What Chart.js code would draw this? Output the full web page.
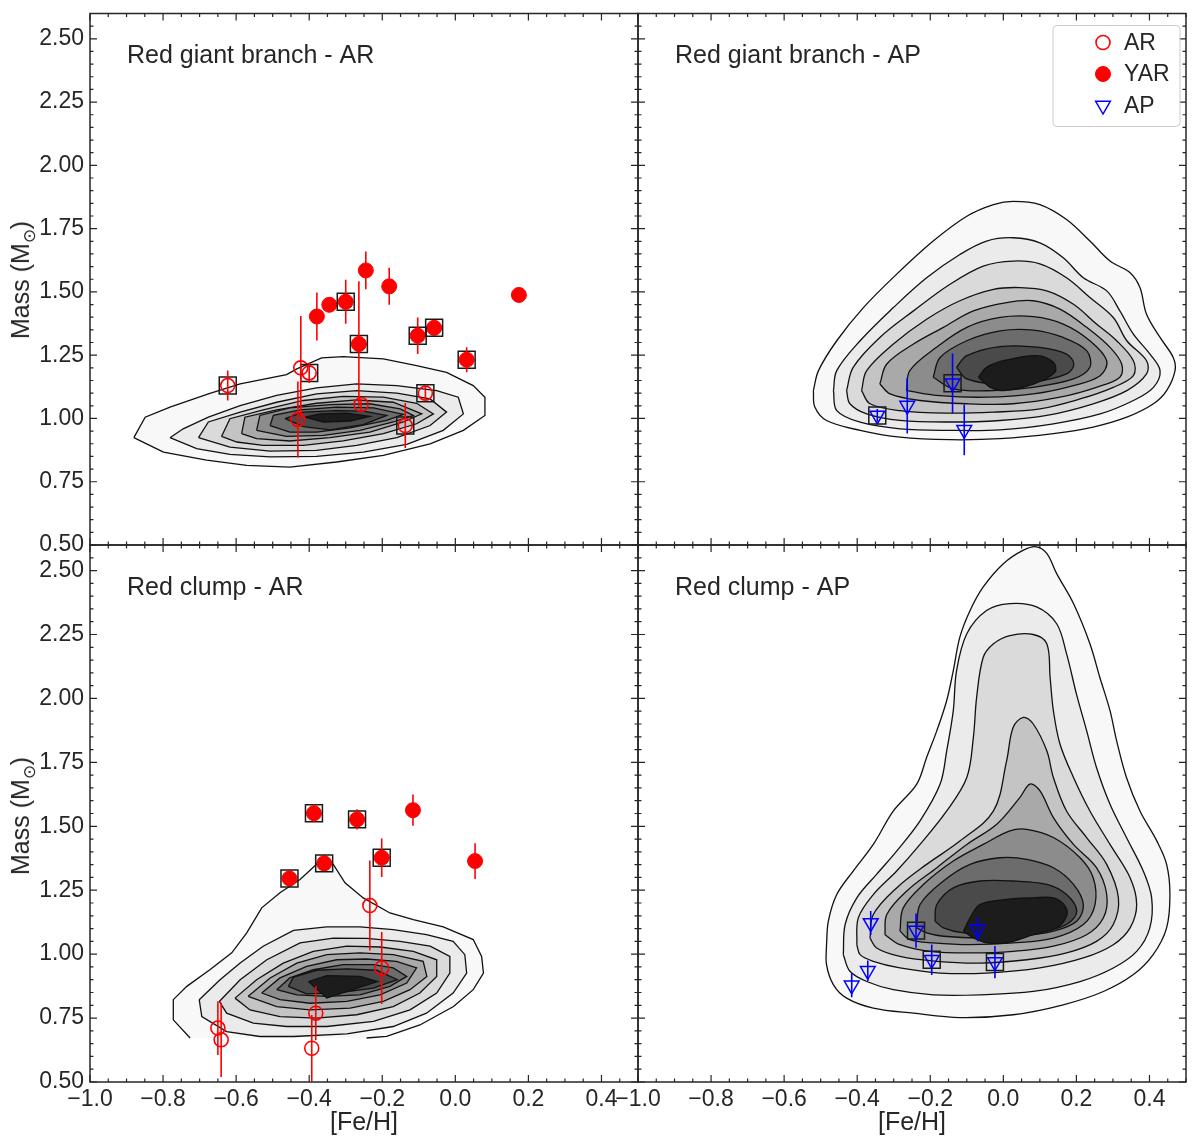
<!DOCTYPE html>
<html>
<head>
<meta charset="utf-8">
<script src="https://cdn.jsdelivr.net/npm/chart.js@4.4.1/dist/chart.umd.min.js"></script>
<style>
  body { margin: 0; background: #fff; }
  #wrap { position: relative; width: 1200px; height: 1147px; font-family: "Liberation Sans", Arial, sans-serif; }
  #wrap canvas { position: absolute; left: 0; top: 0; }
  .ytitle { position: absolute; transform: translate(-50%, -50%) rotate(-90deg); font-size: 25px; color: #262626; white-space: nowrap; }
  .ytitle sub { font-size: 17px; }
</style>
</head>
<body>
<div id="wrap">
  <canvas id="rgbAr" width="1200" height="1147"></canvas>
  <canvas id="rgbAp" width="1200" height="1147"></canvas>
  <canvas id="rcAr" width="1200" height="1147"></canvas>
  <canvas id="rcAp" width="1200" height="1147"></canvas>
  <div class="ytitle" style="left:23px;top:280px">Mass (M<sub>⊙</sub>)</div>
  <div class="ytitle" style="left:23px;top:816px">Mass (M<sub>⊙</sub>)</div>
</div>
<script>
// axes
const xMin = -1.0, xMax = 0.5, yMin = 0.5, yMax = 2.6;
const xTickValues = [-1.0, -0.8, -0.6, -0.4, -0.2, 0.0, 0.2, 0.4];
const yTickValues = [0.5, 0.75, 1.0, 1.25, 1.5, 1.75, 2.0, 2.25, 2.5];
const minorStep = 0.05;
const legendLabels = ['AR', 'YAR', 'AP'];

// ---------- red giant branch ----------
const rgbArFeh  = [-0.623, -0.423, -0.400, -0.431, -0.258, -0.082, -0.137];
const rgbArMass = [1.130, 1.200, 1.180, 0.996, 1.055, 1.100, 0.972];
const rgbArErr  = [0.059, 0.205, 0.040, 0.150, 0.024, 0.024, 0.089];
const rgbArBox  = [1, 0, 1, 0, 0, 1, 1];

const rgbYarFeh  = [-0.245, -0.181, -0.300, -0.345, -0.379, -0.264, -0.103, -0.058, 0.031, 0.174];
const rgbYarMass = [1.585, 1.522, 1.461, 1.449, 1.403, 1.294, 1.327, 1.358, 1.232, 1.488];
const rgbYarErr  = [0.075, 0.073, 0.087, 0.02, 0.095, 0.248, 0.072, 0.02, 0.049, 0.02];
const rgbYarBox  = [0, 0, 1, 0, 0, 1, 1, 1, 1, 0];

const rgbApFeh  = [-0.345, -0.263, -0.139, -0.107];
const rgbApMass = [1.012, 1.051, 1.139, 0.955];
const rgbApErr  = [0.025, 0.11, 0.118, 0.10];
const rgbApBox  = [1, 0, 1, 0];

// ---------- red clump ----------
const rcArFeh  = [-0.234, -0.2015, -0.382, -0.393, -0.650, -0.641];
const rcArMass = [1.190, 0.946, 0.769, 0.632, 0.711, 0.665];
const rcArErr  = [0.176, 0.141, 0.106, 0.13, 0.105, 0.145];
const rcArBox  = [0, 0, 0, 0, 0, 0];

const rcYarFeh  = [-0.454, -0.387, -0.359, -0.269, -0.2015, -0.116, 0.054];
const rcYarMass = [1.296, 1.551, 1.355, 1.527, 1.377, 1.563, 1.364];
const rcYarErr  = [0.03, 0.035, 0.03, 0.04, 0.075, 0.061, 0.07];
const rcYarBox  = [1, 1, 1, 1, 1, 0, 0];

const rcApFeh  = [-0.363, -0.239, -0.196, -0.070, -0.023, -0.371, -0.415];
const rcApMass = [1.122, 1.092, 0.978, 1.096, 0.969, 0.935, 0.878];
const rcApErr  = [0.047, 0.067, 0.06, 0.047, 0.063, 0.04, 0.047];
const rcApBox  = [0, 1, 1, 0, 1, 0, 0];

// density contours, outer level first, [Fe/H, mass]
const rgbArContours = [
  [[-0.880,0.924],[-0.849,1.005],[-0.781,1.045],[-0.676,1.097],[-0.589,1.137],[-0.462,1.173],[-0.434,1.196],[-0.366,1.239],[-0.307,1.244],[-0.197,1.235],[-0.106,1.209],[-0.024,1.182],[0.049,1.130],[0.081,1.084],[0.081,1.012],[0.022,0.953],[-0.069,0.900],[-0.197,0.854],[-0.325,0.828],[-0.453,0.808],[-0.571,0.815],[-0.681,0.835],[-0.799,0.867]],
  [[-0.781,0.924],[-0.745,0.959],[-0.676,1.005],[-0.589,1.051],[-0.489,1.091],[-0.380,1.121],[-0.270,1.137],[-0.160,1.130],[-0.051,1.110],[0.008,1.084],[0.022,1.018],[-0.033,0.953],[-0.133,0.898],[-0.252,0.867],[-0.380,0.850],[-0.507,0.848],[-0.617,0.858],[-0.708,0.881]],
  [[-0.703,0.924],[-0.676,0.986],[-0.589,1.025],[-0.489,1.064],[-0.380,1.097],[-0.270,1.110],[-0.160,1.100],[-0.069,1.077],[-0.024,1.025],[-0.069,0.972],[-0.160,0.924],[-0.270,0.894],[-0.380,0.874],[-0.507,0.871],[-0.617,0.887]],
  [[-0.640,0.929],[-0.617,0.999],[-0.526,1.034],[-0.416,1.071],[-0.307,1.087],[-0.197,1.084],[-0.106,1.060],[-0.060,1.018],[-0.106,0.979],[-0.197,0.940],[-0.307,0.911],[-0.416,0.894],[-0.526,0.894],[-0.598,0.907]],
  [[-0.585,0.940],[-0.576,1.005],[-0.489,1.034],[-0.380,1.060],[-0.270,1.073],[-0.170,1.064],[-0.092,1.018],[-0.142,0.986],[-0.234,0.946],[-0.343,0.924],[-0.453,0.911],[-0.544,0.920]],
  [[-0.544,0.953],[-0.535,1.012],[-0.453,1.042],[-0.343,1.055],[-0.234,1.058],[-0.151,1.038],[-0.115,1.012],[-0.170,0.986],[-0.261,0.953],[-0.361,0.933],[-0.462,0.929]],
  [[-0.507,0.972],[-0.498,1.012],[-0.425,1.034],[-0.325,1.045],[-0.224,1.042],[-0.142,1.016],[-0.188,0.992],[-0.288,0.963],[-0.380,0.946],[-0.453,0.946]],
  [[-0.466,0.999],[-0.416,1.025],[-0.325,1.031],[-0.252,1.029],[-0.188,1.012],[-0.252,0.976],[-0.343,0.955],[-0.416,0.968]],
  [[-0.412,1.005],[-0.370,1.018],[-0.297,1.021],[-0.234,1.008],[-0.288,0.990],[-0.361,0.986]]
];

const rgbApContours = [
  [[-0.520,1.110],[-0.506,1.189],[-0.456,1.307],[-0.383,1.438],[-0.292,1.570],[-0.192,1.701],[-0.100,1.799],[-0.027,1.845],[0.027,1.858],[0.100,1.845],[0.173,1.786],[0.237,1.701],[0.292,1.622],[0.347,1.576],[0.374,1.517],[0.392,1.412],[0.429,1.320],[0.465,1.241],[0.470,1.189],[0.447,1.110],[0.411,1.058],[0.338,1.005],[0.246,0.966],[0.137,0.940],[-0.009,0.920],[-0.146,0.916],[-0.283,0.926],[-0.392,0.953],[-0.484,0.992],[-0.516,1.045]],
  [[-0.465,1.110],[-0.456,1.189],[-0.392,1.307],[-0.301,1.438],[-0.210,1.556],[-0.119,1.648],[-0.046,1.701],[0.027,1.714],[0.100,1.694],[0.164,1.635],[0.219,1.556],[0.283,1.504],[0.319,1.425],[0.356,1.333],[0.401,1.255],[0.429,1.189],[0.411,1.123],[0.356,1.071],[0.265,1.018],[0.137,0.979],[-0.009,0.955],[-0.146,0.953],[-0.283,0.959],[-0.392,0.985],[-0.456,1.031]],
  [[-0.429,1.110],[-0.411,1.202],[-0.338,1.320],[-0.246,1.425],[-0.146,1.530],[-0.055,1.602],[0.027,1.622],[0.100,1.611],[0.173,1.556],[0.237,1.478],[0.301,1.399],[0.338,1.307],[0.392,1.228],[0.392,1.176],[0.338,1.110],[0.246,1.058],[0.119,1.012],[-0.009,0.992],[-0.146,0.986],[-0.283,0.992],[-0.374,1.018],[-0.420,1.058]],
  [[-0.388,1.110],[-0.374,1.189],[-0.301,1.294],[-0.210,1.392],[-0.119,1.465],[-0.027,1.510],[0.046,1.517],[0.119,1.504],[0.192,1.451],[0.255,1.373],[0.310,1.307],[0.356,1.228],[0.356,1.169],[0.301,1.123],[0.210,1.077],[0.100,1.038],[-0.027,1.025],[-0.155,1.021],[-0.283,1.031],[-0.365,1.058]],
  [[-0.338,1.136],[-0.319,1.215],[-0.246,1.294],[-0.164,1.360],[-0.082,1.425],[0.009,1.458],[0.082,1.465],[0.155,1.432],[0.228,1.360],[0.292,1.281],[0.324,1.215],[0.319,1.163],[0.255,1.123],[0.155,1.084],[0.027,1.058],[-0.100,1.058],[-0.228,1.071],[-0.310,1.097]],
  [[-0.265,1.110],[-0.256,1.189],[-0.183,1.281],[-0.100,1.360],[-0.009,1.399],[0.082,1.402],[0.164,1.373],[0.237,1.307],[0.283,1.228],[0.265,1.169],[0.192,1.130],[0.082,1.097],[-0.046,1.084],[-0.173,1.090]],
  [[-0.192,1.163],[-0.173,1.241],[-0.100,1.307],[-0.009,1.346],[0.082,1.349],[0.164,1.320],[0.228,1.268],[0.237,1.202],[0.192,1.156],[0.082,1.123],[-0.027,1.110],[-0.137,1.117]],
  [[-0.128,1.202],[-0.100,1.248],[-0.009,1.284],[0.100,1.281],[0.173,1.254],[0.193,1.213],[0.173,1.176],[0.082,1.143],[-0.009,1.134],[-0.100,1.156]],
  [[-0.068,1.163],[-0.046,1.202],[0.009,1.231],[0.091,1.248],[0.137,1.222],[0.141,1.182],[0.082,1.136],[0.000,1.110],[-0.036,1.123]]
];

const rcArContours = [
  [[-0.726,0.672],[-0.772,0.743],[-0.772,0.822],[-0.735,0.874],[-0.672,0.939],[-0.612,1.005],[-0.571,1.083],[-0.530,1.181],[-0.480,1.240],[-0.425,1.292],[-0.380,1.351],[-0.352,1.377],[-0.334,1.351],[-0.302,1.279],[-0.252,1.220],[-0.179,1.161],[-0.115,1.135],[-0.033,1.107],[0.049,1.057],[0.072,0.991],[0.077,0.926],[0.049,0.861],[-0.005,0.795],[-0.097,0.723],[-0.188,0.678],[-0.243,0.672]],
  [[-0.701,0.822],[-0.644,0.900],[-0.589,0.965],[-0.526,1.031],[-0.443,1.093],[-0.352,1.107],[-0.261,1.107],[-0.170,1.096],[-0.079,1.076],[-0.006,1.050],[0.026,0.998],[0.031,0.926],[-0.006,0.848],[-0.079,0.769],[-0.170,0.717],[-0.297,0.688],[-0.443,0.678],[-0.535,0.678],[-0.626,0.697],[-0.694,0.756]],
  [[-0.646,0.815],[-0.589,0.900],[-0.516,0.978],[-0.425,1.044],[-0.334,1.063],[-0.243,1.062],[-0.151,1.050],[-0.069,1.031],[-0.015,0.991],[-0.015,0.926],[-0.051,0.848],[-0.124,0.782],[-0.224,0.737],[-0.352,0.717],[-0.462,0.717],[-0.553,0.730],[-0.626,0.769]],
  [[-0.603,0.828],[-0.544,0.900],[-0.471,0.965],[-0.389,1.011],[-0.297,1.031],[-0.206,1.028],[-0.115,1.011],[-0.051,0.978],[-0.051,0.913],[-0.097,0.848],[-0.170,0.795],[-0.270,0.763],[-0.380,0.750],[-0.480,0.756],[-0.562,0.782]],
  [[-0.567,0.835],[-0.507,0.907],[-0.434,0.965],[-0.352,0.998],[-0.261,1.005],[-0.170,0.998],[-0.088,0.972],[-0.078,0.913],[-0.124,0.861],[-0.197,0.815],[-0.288,0.789],[-0.398,0.782],[-0.489,0.795]],
  [[-0.530,0.848],[-0.480,0.907],[-0.407,0.952],[-0.325,0.978],[-0.243,0.981],[-0.161,0.972],[-0.106,0.946],[-0.133,0.887],[-0.206,0.841],[-0.297,0.815],[-0.398,0.808],[-0.480,0.822]],
  [[-0.489,0.861],[-0.453,0.907],[-0.389,0.939],[-0.307,0.959],[-0.224,0.959],[-0.170,0.946],[-0.133,0.913],[-0.179,0.874],[-0.261,0.841],[-0.352,0.835],[-0.434,0.841]],
  [[-0.457,0.874],[-0.443,0.910],[-0.380,0.937],[-0.297,0.942],[-0.215,0.937],[-0.159,0.900],[-0.224,0.867],[-0.316,0.850],[-0.407,0.845]],
  [[-0.402,0.893],[-0.352,0.916],[-0.261,0.913],[-0.213,0.893],[-0.352,0.828]]
];

const rcApContours = [
  [[-0.484,1.037],[-0.479,1.129],[-0.456,1.233],[-0.411,1.325],[-0.356,1.429],[-0.301,1.560],[-0.237,1.665],[-0.210,1.769],[-0.182,1.874],[-0.155,1.992],[-0.137,2.109],[-0.119,2.240],[-0.091,2.344],[-0.055,2.436],[0.000,2.527],[0.055,2.580],[0.091,2.593],[0.119,2.567],[0.146,2.488],[0.192,2.371],[0.237,2.214],[0.264,2.083],[0.292,1.952],[0.310,1.835],[0.337,1.691],[0.374,1.560],[0.420,1.443],[0.447,1.351],[0.456,1.233],[0.447,1.103],[0.410,0.998],[0.356,0.920],[0.274,0.854],[0.164,0.802],[0.027,0.763],[-0.119,0.752],[-0.246,0.769],[-0.356,0.789],[-0.429,0.828],[-0.465,0.880],[-0.484,0.959]],
  [[-0.438,0.998],[-0.433,1.116],[-0.401,1.220],[-0.347,1.312],[-0.292,1.403],[-0.228,1.521],[-0.173,1.665],[-0.155,1.795],[-0.137,1.952],[-0.128,2.109],[-0.100,2.253],[-0.046,2.344],[0.018,2.371],[0.091,2.358],[0.146,2.292],[0.173,2.175],[0.200,2.018],[0.228,1.874],[0.255,1.730],[0.292,1.586],[0.337,1.456],[0.383,1.325],[0.406,1.220],[0.401,1.103],[0.365,1.011],[0.301,0.946],[0.210,0.893],[0.082,0.854],[-0.064,0.841],[-0.192,0.841],[-0.301,0.861],[-0.374,0.893],[-0.420,0.933]],
  [[-0.401,1.037],[-0.397,1.142],[-0.356,1.233],[-0.292,1.325],[-0.228,1.429],[-0.155,1.560],[-0.100,1.691],[-0.082,1.848],[-0.073,2.005],[-0.055,2.161],[-0.027,2.214],[0.018,2.246],[0.082,2.250],[0.119,2.214],[0.128,2.083],[0.137,1.952],[0.155,1.822],[0.192,1.691],[0.237,1.560],[0.292,1.429],[0.347,1.299],[0.365,1.194],[0.347,1.103],[0.301,1.037],[0.219,0.985],[0.100,0.946],[-0.046,0.926],[-0.173,0.926],[-0.283,0.946],[-0.356,0.972],[-0.392,0.998]],
  [[-0.365,1.063],[-0.356,1.155],[-0.292,1.259],[-0.210,1.351],[-0.119,1.442],[-0.027,1.560],[0.009,1.756],[0.027,1.887],[0.055,1.926],[0.082,1.900],[0.119,1.795],[0.137,1.691],[0.173,1.560],[0.228,1.456],[0.283,1.351],[0.315,1.220],[0.301,1.116],[0.255,1.050],[0.173,1.005],[0.064,0.978],[-0.064,0.965],[-0.183,0.972],[-0.283,0.991],[-0.347,1.024]],
  [[-0.324,1.076],[-0.319,1.155],[-0.265,1.246],[-0.182,1.338],[-0.100,1.429],[-0.018,1.508],[0.045,1.612],[0.073,1.665],[0.100,1.639],[0.137,1.534],[0.192,1.429],[0.255,1.338],[0.283,1.233],[0.274,1.142],[0.228,1.076],[0.137,1.031],[0.027,1.011],[-0.091,1.005],[-0.201,1.011],[-0.283,1.037]],
  [[-0.283,1.090],[-0.274,1.181],[-0.219,1.272],[-0.137,1.364],[-0.055,1.429],[0.018,1.482],[0.064,1.488],[0.137,1.456],[0.210,1.377],[0.246,1.299],[0.251,1.194],[0.219,1.116],[0.137,1.063],[0.027,1.044],[-0.091,1.037],[-0.192,1.044],[-0.256,1.057]],
  [[-0.237,1.103],[-0.228,1.194],[-0.164,1.286],[-0.091,1.351],[-0.009,1.377],[0.064,1.371],[0.137,1.338],[0.192,1.273],[0.219,1.194],[0.201,1.129],[0.137,1.090],[0.045,1.070],[-0.064,1.063],[-0.164,1.070],[-0.210,1.083]],
  [[-0.187,1.129],[-0.182,1.194],[-0.137,1.259],[-0.064,1.286],[0.027,1.286],[0.119,1.273],[0.173,1.233],[0.201,1.168],[0.173,1.116],[0.091,1.083],[-0.009,1.076],[-0.109,1.083],[-0.164,1.103]],
  [[-0.109,1.090],[-0.091,1.142],[-0.064,1.194],[0.009,1.214],[0.082,1.220],[0.137,1.220],[0.169,1.188],[0.173,1.148],[0.146,1.103],[0.082,1.076],[0.009,1.044],[-0.046,1.044],[-0.082,1.063]]
];

const levelFills = ['#f8f8f8', '#ebebeb', '#dadada', '#c4c4c4', '#a9a9a9', '#8c8c8c', '#6c6c6c', '#4a4a4a', '#1c1c1c'];
const cutMass = 0.674; // lowest contour of the clump AR panel is open along this line

const family = '"Liberation Sans", Arial, sans-serif';
const textColor = '#262626';
Chart.defaults.font.family = family;

const fmt = (v, d) => v.toFixed(d).replace('-', '\u2212');

function contourSets(levels, smooth, openBottom) {
    return levels.map((pts, i) => {
        const data = pts.map(p => ({ x: p[0], y: p[1] }));
        data.push({ x: pts[0][0], y: pts[0][1] });
        const ds = {
            data, showLine: true, fill: 'shape', backgroundColor: levelFills[i],
            borderColor: '#111', borderWidth: 1.3, pointRadius: 0, pointHitRadius: 0,
            tension: smooth ? 0.35 : 0, order: 100 - i
        };
        if (openBottom && i === 0) {
            ds.segment = { borderColor: c => (c.p0.parsed.y < cutMass && c.p1.parsed.y < cutMass) ? 'rgba(0,0,0,0)' : undefined };
        }
        return ds;
    });
}

const styles = {
    ar:  { pointStyle: 'circle', pointRadius: 7, borderColor: '#ff0000', backgroundColor: 'rgba(0,0,0,0)', borderWidth: 1.6, rotation: 0 },
    yar: { pointStyle: 'circle', pointRadius: 7.5, borderColor: '#ff0000', backgroundColor: '#ff0000', borderWidth: 1, rotation: 0 },
    ap:  { pointStyle: 'triangle', pointRadius: 8.5, borderColor: '#0000ff', backgroundColor: 'rgba(0,0,0,0)', borderWidth: 1.5, rotation: 180 }
};

function markerSets(kind, feh, mass, err, box) {
    const st = styles[kind];
    const pts = feh.map((f, i) => ({ x: f, y: mass[i] }));
    return [
        Object.assign({ data: pts, showLine: false, order: 2, errors: err, errColor: st.borderColor }, st),
        { data: pts.filter((p, i) => box[i]), showLine: false, order: 1, pointStyle: 'rect', pointRadius: 12,
          borderColor: '#1a1a1a', backgroundColor: 'rgba(0,0,0,0)', borderWidth: 1.5 }
    ];
}

// vertical error bars through the library's scales
const errorBars = {
    id: 'errorBars',
    afterDatasetsDraw(chart) {
        const { ctx, chartArea: a, scales: { x, y } } = chart;
        ctx.save();
        ctx.beginPath();
        ctx.rect(a.left, a.top, a.right - a.left, a.bottom - a.top);
        ctx.clip();
        chart.data.datasets.forEach(ds => {
            if (!ds.errors) return;
            ctx.strokeStyle = ds.errColor;
            ctx.lineWidth = 1.6;
            ctx.beginPath();
            ds.data.forEach((p, i) => {
                const px = x.getPixelForValue(p.x);
                ctx.moveTo(px, y.getPixelForValue(p.y - ds.errors[i]));
                ctx.lineTo(px, y.getPixelForValue(p.y + ds.errors[i]));
            });
            ctx.stroke();
        });
        ctx.restore();
    }
};

// inward ticks on all four sides plus frame
const frameTicks = {
    id: 'frameTicks',
    afterDatasetsDraw(chart) {
        const { ctx, chartArea: a, scales: { x, y } } = chart;
        const isMajor = (list, v) => list.some(t => Math.abs(t - v) < 1e-6);
        ctx.save();
        ctx.strokeStyle = '#262626';
        ctx.lineWidth = 1.2;
        ctx.beginPath();
        for (let v = xMin; v <= xMax + 1e-9; v += minorStep) {
            const len = isMajor(xTickValues, v) ? 7 : 3.5;
            const px = x.getPixelForValue(v);
            ctx.moveTo(px, a.bottom); ctx.lineTo(px, a.bottom - len);
            ctx.moveTo(px, a.top); ctx.lineTo(px, a.top + len);
        }
        for (let v = yMin; v <= yMax + 1e-9; v += minorStep) {
            const len = isMajor(yTickValues, v) ? 7 : 3.5;
            const py = y.getPixelForValue(v);
            ctx.moveTo(a.left, py); ctx.lineTo(a.left + len, py);
            ctx.moveTo(a.right, py); ctx.lineTo(a.right - len, py);
        }
        ctx.stroke();
        ctx.lineWidth = 1.5;
        ctx.strokeRect(a.left, a.top, a.right - a.left, a.bottom - a.top);
        ctx.restore();
    }
};

const panelLabel = {
    id: 'panelLabel',
    afterDraw(chart, args, o) {
        if (!o.text) return;
        const { ctx, chartArea: a } = chart;
        ctx.save();
        ctx.font = '25px ' + family;
        ctx.fillStyle = textColor;
        ctx.textBaseline = 'middle';
        ctx.fillText(o.text, a.left + 37, a.top + 43);
        ctx.restore();
    }
};

const legendBox = {
    id: 'legendBox',
    afterDraw(chart, args, o) {
        if (!o.show) return;
        const { ctx, chartArea: a } = chart;
        const x0 = a.right - 133, y0 = a.top + 12, w = 127, h = 101, r = 4;
        ctx.save();
        ctx.beginPath();
        ctx.moveTo(x0 + r, y0);
        ctx.arcTo(x0 + w, y0, x0 + w, y0 + h, r);
        ctx.arcTo(x0 + w, y0 + h, x0, y0 + h, r);
        ctx.arcTo(x0, y0 + h, x0, y0, r);
        ctx.arcTo(x0, y0, x0 + w, y0, r);
        ctx.closePath();
        ctx.fillStyle = 'rgba(255,255,255,0.8)';
        ctx.fill();
        ctx.strokeStyle = '#cccccc';
        ctx.lineWidth = 1;
        ctx.stroke();
        const kinds = ['ar', 'yar', 'ap'];
        legendLabels.forEach((lab, i) => {
            const st = styles[kinds[i]];
            const cx = a.right - 83, cy = y0 + 17 + i * 31.5;
            ctx.beginPath();
            if (st.pointStyle === 'circle') {
                ctx.arc(cx, cy, st.pointRadius, 0, Math.PI * 2);
            } else {
                const rr = st.pointRadius;
                ctx.moveTo(cx, cy + rr);
                ctx.lineTo(cx - rr * 0.866, cy - rr / 2);
                ctx.lineTo(cx + rr * 0.866, cy - rr / 2);
                ctx.closePath();
            }
            ctx.fillStyle = st.backgroundColor;
            ctx.fill();
            ctx.strokeStyle = st.borderColor;
            ctx.lineWidth = st.borderWidth;
            ctx.stroke();
            ctx.font = '23px ' + family;
            ctx.fillStyle = textColor;
            ctx.textBaseline = 'middle';
            ctx.fillText(lab, a.right - 62, cy + 1);
        });
        ctx.restore();
    }
};

function makeScales(showX, showY) {
    return {
        x: {
            type: 'linear', min: xMin, max: xMax, display: showX,
            grid: { display: false, drawTicks: false, tickLength: 0 }, border: { display: false },
            afterBuildTicks: s => { s.ticks = xTickValues.map(v => ({ value: v })); },
            afterFit: s => { if (showX) { s.height = 65; s.paddingLeft = 0; s.paddingRight = 0; } },
            ticks: { autoSkip: false, maxRotation: 0, padding: 4, color: textColor, font: { size: 23 }, callback: v => fmt(v, 1) },
            title: { display: true, text: '[Fe/H]', color: textColor, font: { size: 25 }, padding: { top: 0, bottom: 9 } }
        },
        y: {
            type: 'linear', min: yMin, max: yMax, display: showY,
            grid: { display: false, drawTicks: false, tickLength: 0 }, border: { display: false },
            afterBuildTicks: s => { s.ticks = yTickValues.map(v => ({ value: v })); },
            afterFit: s => { if (showY) { s.width = 90; s.paddingTop = 0; s.paddingBottom = 0; } },
            ticks: { autoSkip: false, padding: 6, color: textColor, font: { size: 23 }, callback: v => fmt(v, 2) }
        }
    };
}

function makePanel(id, pad, showX, showY, datasets, label, withLegend) {
    new Chart(document.getElementById(id), {
        type: 'scatter',
        data: { datasets },
        options: {
            responsive: false, animation: false, devicePixelRatio: 1, events: [],
            layout: { padding: pad },
            scales: makeScales(showX, showY),
            plugins: {
                legend: { display: false }, tooltip: { enabled: false },
                panelLabel: { text: label },
                legendBox: { show: withLegend }
            }
        },
        plugins: [errorBars, frameTicks, panelLabel, legendBox]
    });
}

makePanel('rgbAr', { left: 0, top: 10, right: 562, bottom: 602 }, false, true,
    contourSets(rgbArContours, false, false)
        .concat(markerSets('ar', rgbArFeh, rgbArMass, rgbArErr, rgbArBox))
        .concat(markerSets('yar', rgbYarFeh, rgbYarMass, rgbYarErr, rgbYarBox)),
    'Red giant branch - AR', false);

makePanel('rgbAp', { left: 638, top: 10, right: 14, bottom: 602 }, false, false,
    contourSets(rgbApContours, true, false)
        .concat(markerSets('ap', rgbApFeh, rgbApMass, rgbApErr, rgbApBox)),
    'Red giant branch - AP', true);

makePanel('rcAr', { left: 0, top: 545, right: 562, bottom: 0 }, true, true,
    contourSets(rcArContours, false, true)
        .concat(markerSets('ar', rcArFeh, rcArMass, rcArErr, rcArBox))
        .concat(markerSets('yar', rcYarFeh, rcYarMass, rcYarErr, rcYarBox)),
    'Red clump - AR', false);

makePanel('rcAp', { left: 638, top: 545, right: 14, bottom: 0 }, true, false,
    contourSets(rcApContours, true, false)
        .concat(markerSets('ap', rcApFeh, rcApMass, rcApErr, rcApBox)),
    'Red clump - AP', false);
</script>
</body>
</html>
